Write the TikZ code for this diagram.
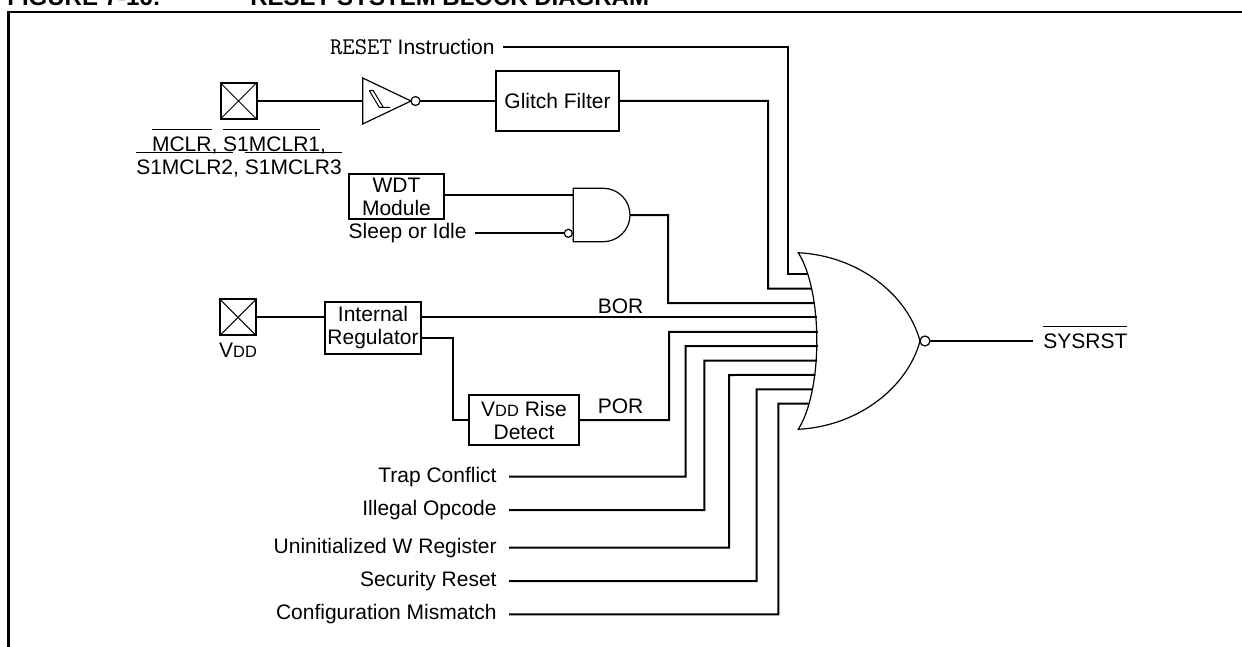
\documentclass[tikz,border=0pt]{standalone}
\usepackage{fontspec}
\setmainfont{Liberation Sans}

\newsavebox{\barbox}
\newcommand{\ovl}[1]{\sbox{\barbox}{#1}\rlap{\smash{\rule[10.6pt]{\wd\barbox}{0.6pt}}}\usebox{\barbox}}
\newcommand{\vdd}{V{\fontsize{8.2pt}{9pt}\selectfont DD}}
\newcommand{\instr}[1]{{\ttfamily\fontsize{12pt}{12pt}\selectfont #1}}

\tikzset{
    wire/.style={line width=1pt},
    gate/.style={draw, line width=0.6pt},
    block/.style={draw, line width=1pt, align=center, inner sep=0pt},
    pad/.style={draw, line width=1pt, minimum size=18pt, inner sep=0pt,
        path picture={\draw[line width=0.5pt]
            (path picture bounding box.north west) -- (path picture bounding box.south east)
            (path picture bounding box.north east) -- (path picture bounding box.south west);}},
    siglabel/.style={anchor=east, inner xsep=4pt, inner ysep=0pt},
}

\begin{document}
\begin{tikzpicture}[x=0.5pt, y=-0.5pt, font=\fontsize{10.5pt}{11.5pt}\selectfont]
    \useasboundingbox (0,0) rectangle (1242,647);
    % frame and title
    \draw[line width=1.2pt] (1242,12) -- (8.3,12) -- (8.3,647);
    \node[anchor=base west, inner sep=0pt, font=\fontsize{12pt}{14pt}\selectfont\bfseries] (fignum) at (7,6) {FIGURE 7-16:};
    \node[anchor=base west, inner sep=0pt, font=\fontsize{12pt}{14pt}\selectfont\bfseries] (figtitle) at (250,6) {RESET SYSTEM BLOCK DIAGRAM};

    % master clear path
    \node[siglabel] (reset) at (503,47.5) {\instr{RESET} Instruction};
    \node[pad] (mclr) at (238.5,101) {};
    \node[align=center, inner sep=0pt, font=\fontsize{10.5pt}{11.35pt}\selectfont] (mclrname) at (239,156.7)
        {\ovl{MCLR}, \ovl{S1MCLR1},\\\ovl{S1MCLR2}, \ovl{S1MCLR3}};
    \draw[gate] (362.7,78) -- (411,101) -- (362.7,124) -- cycle;
    \draw[gate] (415.5,101) circle[radius=2.25pt];
    \draw[line width=0.5pt] (369.3,90.7) -- (373.3,90.7) -- (383.3,107.3) -- (390,107.3)
        (369.3,90.7) -- (379.3,107.3) -- (383.3,107.3);
    \coordinate (buf-in) at (362.7,101);
    \coordinate (buf-out) at (420,101);
    \node[block, minimum width=61.5pt, minimum height=30pt] (glitch) at (557.5,101) {Glitch Filter};

    % watchdog
    \node[block, minimum width=47.5pt, minimum height=22.5pt] (wdt) at (396.5,196.5) {WDT\\Module};
    \node[siglabel] (sleep) at (475,233.3) {Sleep or Idle};
    \draw[gate] (573.3,188.3) -- (603.3,188.3) arc[start angle=90, end angle=-90, radius=13.35pt] -- (573.3,241.7) -- cycle;
    \draw[gate] (568.3,233.3) circle[radius=2pt];
    \coordinate (and-a) at (573.3,195);
    \coordinate (and-b) at (564.3,233.3);
    \coordinate (and-out) at (630,215);

    % supply
    \node[pad] (vddpad) at (238,317.4) {};
    \node[inner sep=0pt] (vddname) at (238,350.5) {\vdd};
    \node[block, minimum width=47.7pt, minimum height=26pt] (reg) at (373,328) {Internal\\Regulator};
    \node[block, minimum width=55pt, minimum height=25pt] (rise) at (524,420) {\vdd{} Rise\\Detect};
    \node (bor) at (620.5,306.7) {BOR};
    \node (por) at (620.5,406.7) {POR};
    \coordinate (regjog) at (453.3,337.7);

    % fault sources
    \node[siglabel, inner xsep=6pt] (trap) at (509,476.7) {Trap Conflict};
    \node[siglabel, inner xsep=6pt] (illegal) at (509,510) {Illegal Opcode};
    \node[siglabel, inner xsep=6pt] (uninit) at (509,547.7) {Uninitialized W Register};
    \node[siglabel, inner xsep=6pt] (secure) at (509,581) {Security Reset};
    \node[siglabel, inner xsep=6pt] (config) at (509,614.3) {Configuration Mismatch};

    % nor gate
    \draw[gate] (798.3,252.7) .. controls (860,256) and (908,296) .. (920,341)
        .. controls (908,386) and (860,426) .. (798.3,429.3)
        .. controls (823,390) and (823,292) .. (798.3,252.7) -- cycle;
    \draw[gate] (925,341) circle[radius=2.5pt];
    \coordinate (or-out) at (930,341);
    \foreach \i in {1,...,10} {
        \pgfmathsetmacro{\yy}{274.3+14.38*(\i-1)}
        \pgfmathsetmacro{\xx}{799.5+18.5*(1-((\yy-341)/88.3)*((\yy-341)/88.3))}
        \coordinate (or-in\i) at (\xx,\yy);
    }
    \node[anchor=west, inner xsep=5pt, inner ysep=0pt] (sysrst) at (1033,341) {\ovl{SYSRST}};

    \coordinate (jog1) at (788,274.3);
    \coordinate (jog2) at (768,288.7);
    \coordinate (jog3) at (668,303.1);
    \coordinate (jog5) at (669,331.8);
    \coordinate (jog6) at (685.7,346.2);
    \coordinate (jog7) at (704.3,360.6);
    \coordinate (jog8) at (729,375);
    \coordinate (jog9) at (756.7,389.3);
    \coordinate (jog10) at (778.3,403.7);

    % wires
    \draw[wire] (mclr) -- (buf-in);
    \draw[wire] (buf-out) -- (glitch);
    \draw[wire] (reset.east) -| (jog1) -- (or-in1);
    \draw[wire] (glitch.east) -| (jog2) -- (or-in2);
    \draw[wire] (wdt.east |- and-a) -- (and-a);
    \draw[wire] (sleep.east) -- (and-b);
    \draw[wire] (and-out) -| (jog3) -- (or-in3);
    \draw[wire] (vddpad) -- (reg.west |- vddpad);
    \draw[wire] (reg.east |- or-in4) -- (or-in4);
    \draw[wire] (reg.east |- regjog) -- (regjog) |- (rise.west);
    \draw[wire] (rise.east) -| (jog5) -- (or-in5);
    \draw[wire] (trap.east) -| (jog6) -- (or-in6);
    \draw[wire] (illegal.east) -| (jog7) -- (or-in7);
    \draw[wire] (uninit.east) -| (jog8) -- (or-in8);
    \draw[wire] (secure.east) -| (jog9) -- (or-in9);
    \draw[wire] (config.east) -| (jog10) -- (or-in10);
    \draw[wire] (or-out) -- (sysrst.west);
\end{tikzpicture}
\end{document}
